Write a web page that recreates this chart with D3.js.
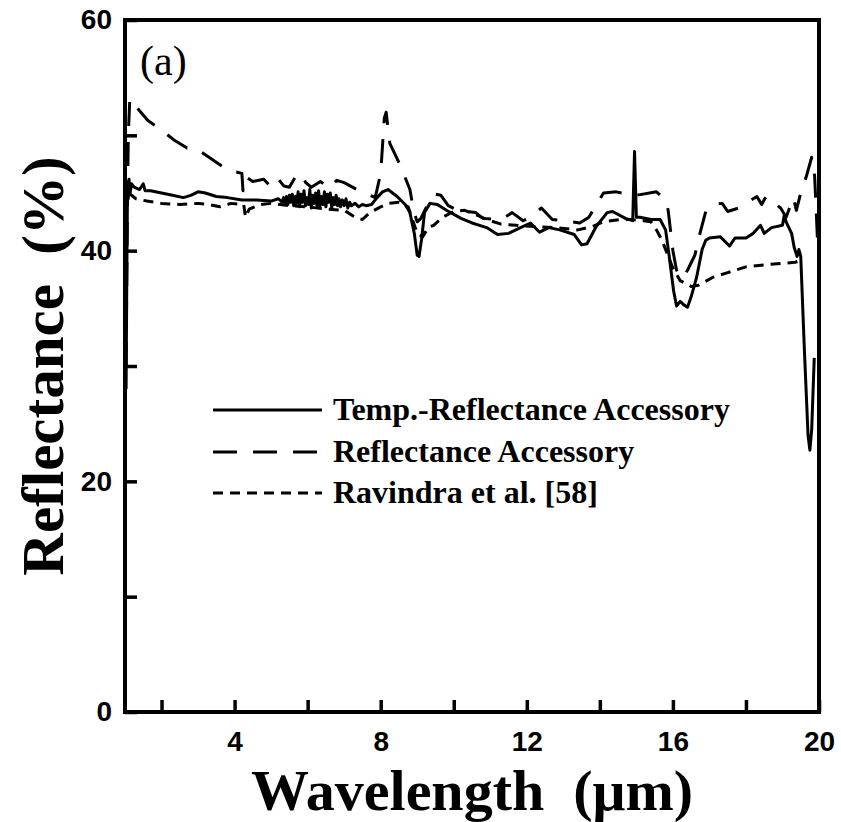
<!DOCTYPE html>
<html>
<head>
<meta charset="utf-8">
<script src="https://cdn.jsdelivr.net/npm/d3@7"></script>
<style>
  body { margin: 0; background: #fff; }
  svg { display: block; }
</style>
</head>
<body>
<div id="chart"></div>
<script>
// data (wavelength in um, reflectance in %)
const tempWave = [1.03, 1.05, 1.07, 1.09, 1.11, 1.14, 1.18, 1.25, 1.4, 1.5, 1.55, 1.7, 2.0, 2.3, 2.6, 2.8, 3.0, 3.2, 3.5, 3.8, 4.2, 4.6, 5.0, 5.2,
  5.3, 5.34, 5.38, 5.42, 5.46, 5.5, 5.54, 5.58, 5.62, 5.66, 5.7, 5.74, 5.78, 5.82, 5.86, 5.9, 5.94, 5.98, 6.02, 6.06, 6.1, 6.14, 6.18, 6.22,
  6.26, 6.3, 6.34, 6.38, 6.42, 6.46, 6.5, 6.54, 6.58, 6.62, 6.66, 6.7, 6.74, 6.78, 6.82, 6.86, 6.9, 6.95, 7.0, 7.05, 7.1, 7.15, 7.2, 7.3, 7.4, 7.5, 7.6,
  7.75, 7.9, 8.05, 8.2, 8.45, 8.67, 8.8, 8.92, 9.0, 9.05, 9.12, 9.2, 9.35, 9.55, 9.8, 10.2, 10.5, 10.9, 11.2, 11.5, 11.7, 12.1, 12.35, 12.6, 12.9,
  13.3, 13.5, 13.65, 13.9, 14.2, 14.35, 14.7, 14.9, 14.95, 15.0, 15.1, 15.4, 15.65, 15.8, 15.9, 16.02, 16.1, 16.2, 16.3, 16.4, 16.5, 16.65, 16.8,
  16.9, 17.0, 17.3, 17.55, 17.7, 18.0, 18.2, 18.4, 18.5, 18.7, 19.0, 19.05, 19.1, 19.25, 19.32, 19.4, 19.45, 19.5, 19.6, 19.7, 19.75, 19.8, 19.87];
const tempRefl = [28, 38, 46, 44.5, 46.2, 45.0, 45.8, 45.5, 45.3, 45.8, 45.2, 45.2, 45.0, 44.8, 44.6, 44.8, 45.1, 45.0, 44.7, 44.6, 44.4, 44.4, 44.3, 44.5,
  44.2, 44.6, 44.1, 44.7, 44.0, 44.8, 44.2, 44.9, 43.9, 44.7, 44.1, 45.1, 43.8, 44.9, 44.2, 45.2, 43.9, 44.6, 44.0, 45.3, 43.7, 44.8, 44.1, 45.0,
  43.8, 45.2, 43.9, 44.7, 44.0, 45.1, 43.8, 44.9, 44.2, 45.0, 43.7, 44.6, 44.0, 44.8, 43.9, 44.5, 43.8, 44.4, 43.9, 44.5, 43.7, 44.2, 43.9, 44.1, 43.8, 44.0, 43.9,
  44.0, 44.6, 45.1, 45.3, 44.7, 44.0, 43.3, 41.5, 39.6, 39.5, 41.0, 43.3, 44.1, 44.0, 43.5, 42.8, 42.4, 42.0, 41.4, 41.5, 41.8, 42.4, 41.6, 42.0, 41.8,
  41.4, 40.5, 40.6, 42.1, 43.3, 43.4, 42.8, 42.6, 48.6, 42.9, 42.9, 42.7, 42.7, 41.8, 39.5, 36.5, 35.2, 35.6, 35.3, 35.1, 36.0, 37.7, 40.1,
  40.9, 41.1, 41.2, 40.4, 41.1, 41.1, 41.5, 42.2, 41.5, 42.0, 42.2, 43.1, 42.5, 41.5, 40.3, 39.5, 40.1, 39.5, 31.4, 24.0, 22.7, 24.5, 30.7];

const reflWave = [1.03, 1.06, 1.09, 1.13, 1.16, 1.3, 1.62, 1.98, 2.34, 2.7, 2.93, 3.35, 3.8, 4.2, 4.23, 4.3, 4.5, 4.8, 5.0, 5.2, 5.35, 5.5, 5.7, 5.8,
  5.95, 6.1, 6.35, 6.6, 6.8, 7.0, 7.35, 7.7, 7.85, 8.0, 8.1, 8.15, 8.25, 8.55, 8.8, 8.9, 9.0, 9.1, 9.3, 9.5, 9.65, 9.85, 10.1, 10.6, 10.8, 11.3,
  11.6, 11.9, 12.1, 12.4, 12.7, 13.0, 13.45, 13.7, 14.1, 14.45, 14.6, 15.0, 15.55, 15.8, 15.87, 16.0, 16.1, 16.25, 16.4, 16.6, 16.75, 16.9, 17.1,
  17.35, 17.5, 17.8, 18.3, 18.43, 18.55, 18.95, 19.1, 19.3, 19.38, 19.5, 19.65, 19.8, 19.88, 19.93, 19.97];
const reflRefl = [30, 42, 50, 53.0, 53.2, 52.5, 51.3, 50.5, 49.6, 48.9, 48.9, 48.0, 47.0, 46.7, 45.2, 46.4, 46.0, 46.2, 45.5, 46.2, 45.6, 45.5, 46.6, 46.7,
  45.9, 45.5, 46.0, 45.4, 46.1, 45.9, 45.3, 44.8, 44.6, 46.7, 51.5, 52.0, 49.3, 47.3, 45.3, 43.5, 42.5, 42.8, 44.1, 44.9, 44.8, 43.9, 43.5, 43.3, 42.8, 42.7,
  43.3, 42.6, 42.9, 43.7, 42.7, 42.6, 42.4, 42.9, 45.0, 45.1, 45.0, 44.8, 45.1, 44.4, 43.5, 40.0, 38.3, 37.6, 38.3, 39.6, 41.6, 43.4, 44.0,
  44.1, 43.4, 43.7, 44.7, 44.0, 44.7, 43.7, 42.9, 44.6, 43.5, 45.0, 46.4, 48.1, 46.5, 43.0, 40.0];

const ravWave = [1.1, 1.3, 1.6, 2.0, 2.5, 3.0, 3.3, 3.6, 3.9, 4.25, 4.3, 4.4, 4.7, 5.0, 5.5, 6.0, 6.5, 7.0, 7.3, 7.5, 7.7, 8.0, 8.2, 8.5, 8.75,
  9.0, 9.15, 9.3, 9.45, 9.7, 10.0, 10.3, 10.7, 10.9, 11.3, 11.7, 12.2, 12.8, 13.4, 13.8, 14.1, 14.55, 14.8, 15.2, 15.4, 15.55, 15.7, 16.0, 16.2,
  16.5, 16.7, 17.1, 17.5, 18.0, 18.6, 19.0, 19.35, 19.45];
const ravRefl = [45.0, 44.5, 44.3, 44.1, 44.0, 44.1, 44.0, 43.8, 44.1, 44.0, 42.9, 43.6, 44.0, 44.1, 43.9, 43.8, 43.6, 43.5, 42.9, 42.7, 43.3, 43.8, 44.1, 44.2, 43.8,
  41.5, 41.2, 42.0, 42.2, 42.9, 43.4, 43.5, 43.0, 42.7, 42.3, 42.2, 42.1, 42.0, 41.8, 42.1, 42.5, 42.7, 42.7, 42.6, 42.5, 41.8, 40.9, 38.5, 37.4,
  36.9, 37.0, 37.7, 38.1, 38.6, 38.8, 38.9, 39.0, 39.1];

const seriesNames = ["Temp.-Reflectance Accessory", "Reflectance Accessory", "Ravindra et al. [58]"];
const seriesDash = ["none", "24,16", "10,7"];
const xMinorTicks = [2, 4, 6, 8, 10, 12, 14, 16, 18];
const xLabels = [4, 8, 12, 16, 20];
const yMinorTicks = [0, 10, 20, 30, 40, 50, 60];
const yLabels = [0, 20, 40, 60];

const W = 841, H = 822;
const plotL = 125, plotR = 819, plotT = 20, plotB = 712;

const svg = d3.select("#chart").append("svg")
  .attr("width", W).attr("height", H);

const x = d3.scaleLinear().domain([1, 20]).range([plotL, plotR]);
const y = d3.scaleLinear().domain([0, 60]).range([plotB, plotT]);

svg.append("defs").append("clipPath").attr("id", "plot")
  .append("rect").attr("x", plotL).attr("y", plotT).attr("width", plotR - plotL).attr("height", plotB - plotT);

// curves
const line = d3.line().x(d => x(d[0])).y(d => y(d[1]));
const series = [
  d3.zip(tempWave, tempRefl),
  d3.zip(reflWave, reflRefl),
  d3.zip(ravWave, ravRefl)
];
svg.append("g").attr("clip-path", "url(#plot)")
  .selectAll("path").data(series).join("path")
  .attr("d", line)
  .attr("fill", "none")
  .attr("stroke", "#000")
  .attr("stroke-width", 3)
  .attr("stroke-linejoin", "round")
  .attr("stroke-dasharray", (d, i) => seriesDash[i]);

// axes, ticks pointing inward
const xAxis = d3.axisBottom(x).tickValues(xMinorTicks.concat([20]))
  .tickSize(-12).tickPadding(19)
  .tickFormat(d => xLabels.includes(d) ? d : "");
const gx = svg.append("g").attr("transform", `translate(0,${plotB})`).call(xAxis);

const yAxis = d3.axisLeft(y).tickValues(yMinorTicks)
  .tickSize(-12).tickPadding(13)
  .tickFormat(d => yLabels.includes(d) ? d : "");
const gy = svg.append("g").attr("transform", `translate(${plotL},0)`).call(yAxis);

[gx, gy].forEach(g => {
  g.select(".domain").remove();
  g.selectAll(".tick line").attr("stroke", "#000").attr("stroke-width", 3.5);
  g.selectAll(".tick text")
    .attr("fill", "#000")
    .style("font-family", "'Liberation Sans', Arial, sans-serif")
    .style("font-weight", "bold")
    .style("font-size", "28px");
});

// frame
svg.append("rect")
  .attr("x", plotL).attr("y", plotT)
  .attr("width", plotR - plotL).attr("height", plotB - plotT)
  .attr("fill", "none").attr("stroke", "#000").attr("stroke-width", 4);

// titles
svg.append("text")
  .attr("x", (plotL + plotR) / 2).attr("y", 810)
  .attr("text-anchor", "middle")
  .style("font-family", "'Liberation Serif', 'Times New Roman', serif")
  .style("font-weight", "bold").style("font-size", "58px")
  .style("white-space", "pre")
  .text("Wavelength  (\u03bcm)");

svg.append("text")
  .attr("transform", `translate(63,${(plotT + plotB) / 2}) rotate(-90)`)
  .attr("text-anchor", "middle")
  .style("font-family", "'Liberation Serif', 'Times New Roman', serif")
  .style("font-weight", "bold").style("font-size", "59px")
  .style("white-space", "pre")
  .text("Reflectance  (%)");

svg.append("text")
  .attr("x", 140).attr("y", 75)
  .style("font-family", "'Liberation Serif', 'Times New Roman', serif")
  .style("font-size", "42px")
  .text("(a)");

// legend
const legendY = [410, 452, 493];
const legend = svg.append("g").selectAll("g").data(seriesNames).join("g")
  .attr("transform", (d, i) => `translate(0,${legendY[i]})`);
legend.append("line")
  .attr("x1", 213).attr("x2", 322)
  .attr("stroke", "#000").attr("stroke-width", 3)
  .attr("stroke-dasharray", (d, i) => seriesDash[i]);
legend.append("text")
  .attr("x", 333).attr("y", 10)
  .style("font-family", "'Liberation Serif', 'Times New Roman', serif")
  .style("font-weight", "bold").style("font-size", "32px")
  .text(d => d);
</script>
</body>
</html>
